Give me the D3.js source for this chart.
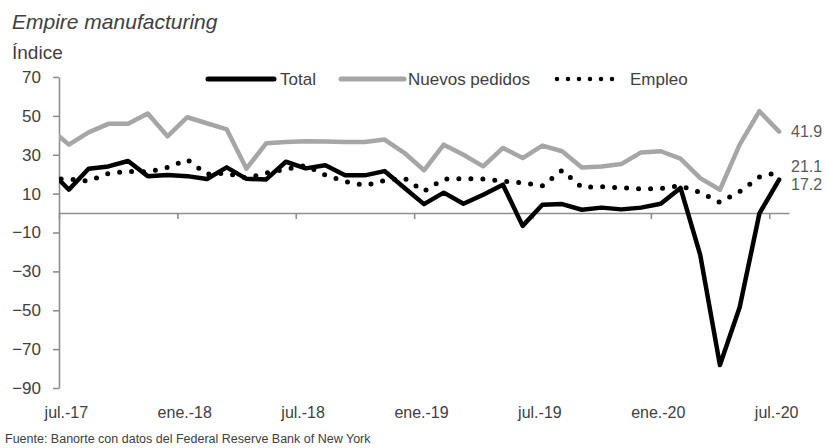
<!DOCTYPE html>
<html>
<head>
<meta charset="utf-8">
<script src="https://cdn.jsdelivr.net/npm/d3@7"></script>
<style>
  body { margin: 0; background: #fff; }
  svg text { font-family: "Liberation Sans", Arial, sans-serif; fill: #404040; }
</style>
</head>
<body>
<div id="chart"></div>
<script>
// meses: jun.-17 queda fuera del eje (se recorta), la serie visible va de jul.-17 a jul.-20
const meses = ['jun.-17','jul.-17','ago.-17','sep.-17','oct.-17','nov.-17','dic.-17',
  'ene.-18','feb.-18','mar.-18','abr.-18','may.-18','jun.-18','jul.-18','ago.-18','sep.-18','oct.-18','nov.-18','dic.-18',
  'ene.-19','feb.-19','mar.-19','abr.-19','may.-19','jun.-19','jul.-19','ago.-19','sep.-19','oct.-19','nov.-19','dic.-19',
  'ene.-20','feb.-20','mar.-20','abr.-20','may.-20','jun.-20','jul.-20'];
const etiquetasX = ['jul.-17','ene.-18','jul.-18','ene.-19','jul.-19','ene.-20','jul.-20'];
const ticksY = [70, 50, 30, 10, -10, -30, -50, -70, -90];

const total = [22.4, 12.0, 22.8, 24.0, 26.8, 19.0, 19.6, 19.0, 17.5, 23.5, 17.6, 17.3, 26.4, 23.0, 24.6, 19.4, 19.4, 21.6, 13.0,
  4.6, 10.5, 4.8, 9.4, 14.6, -6.6, 4.3, 4.6, 1.7, 2.8, 1.9, 2.8, 4.8, 12.9, -21.5, -78.2, -48.5, -0.2, 17.2];
const nuevosPedidos = [43.8, 35.2, 41.5, 45.9, 45.9, 51.2, 39.5, 49.3, 46.2, 43.1, 22.8, 35.9, 36.5, 37.0, 36.8, 36.6, 36.6, 37.8, 31.0,
  22.0, 35.2, 30.0, 24.0, 33.5, 28.3, 34.7, 31.8, 23.5, 24.0, 25.2, 31.2, 31.8, 28.0, 18.0, 12.0, 35.2, 52.4, 41.9];
const empleo = [17.5, 17.5, 16.5, 20.3, 21.5, 21.2, 23.5, 27.5, 20.0, 20.5, 18.0, 20.6, 22.5, 24.5, 19.5, 16.2, 14.2, 16.8, 18.0,
  11.2, 17.5, 17.7, 17.5, 16.4, 15.6, 14.0, 22.0, 13.2, 13.6, 13.0, 12.4, 12.7, 14.0, 10.6, 5.5, 11.0, 18.5, 21.1];

const series = [
  { name: 'Total', values: total, color: '#000000', dash: null },
  { name: 'Nuevos pedidos', values: nuevosPedidos, color: '#a6a6a6', dash: null },
  { name: 'Empleo', values: empleo, color: '#000000', dash: '0 12' }
];

const width = 827, height = 448;
const plotLeft = 59, plotRight = 789, plotTop = 77, plotBottom = 388;

const svg = d3.select('#chart').append('svg')
  .attr('width', width)
  .attr('height', height);

const x = d3.scaleLinear().domain([0.5, meses.length - 0.5]).range([plotLeft, plotRight]);
const y = d3.scaleLinear().domain([-90, 70]).range([plotBottom, plotTop]);

svg.append('clipPath').attr('id', 'plot')
  .append('rect')
  .attr('x', plotLeft).attr('y', 0)
  .attr('width', plotRight - plotLeft).attr('height', height);

// eje Y
const yAxis = svg.append('g')
  .attr('transform', `translate(${plotLeft},0)`)
  .call(d3.axisLeft(y).tickValues(ticksY).tickSize(6).tickPadding(12).tickSizeOuter(0));
yAxis.selectAll('path, line').attr('stroke', '#8f8f8f').attr('stroke-width', 1.6);
yAxis.selectAll('text').style('font-size', '17px');

// eje X en cero: marcas entre categorías cada 6 meses
const marcas = etiquetasX.map(e => meses.indexOf(e) - 0.5);
const xAxis = svg.append('g')
  .attr('transform', `translate(0,${y(0)})`)
  .call(d3.axisBottom(x).tickValues(marcas).tickFormat('').tickSize(6).tickSizeOuter(0));
xAxis.selectAll('path, line').attr('stroke', '#8f8f8f').attr('stroke-width', 1.6);

// etiquetas de fecha abajo
const xLabels = svg.append('g')
  .attr('transform', `translate(0,${plotBottom})`)
  .call(d3.axisBottom(x).tickValues(etiquetasX.map(e => meses.indexOf(e)))
    .tickFormat(d => meses[d]).tickSize(0).tickPadding(19));
xLabels.select('.domain').remove();
xLabels.selectAll('text').attr('dx', -3).style('font-size', '16px');

// líneas
const line = d3.line()
  .x((d, i) => x(i))
  .y(d => y(d));

const g = svg.append('g').attr('clip-path', 'url(#plot)');
g.selectAll('path.serie')
  .data(series)
  .enter()
  .append('path')
  .attr('class', 'serie')
  .attr('d', d => line(d.values))
  .attr('fill', 'none')
  .attr('stroke', d => d.color)
  .attr('stroke-width', d => d.dash ? 5 : 4.5)
  .attr('stroke-linejoin', 'round')
  .attr('stroke-linecap', 'round')
  .attr('stroke-dasharray', d => d.dash);

// valores finales
const ultimo = meses.length - 1;
const desfase = { 'Total': 5, 'Nuevos pedidos': 0, 'Empleo': -6 };
svg.selectAll('text.final')
  .data(series)
  .enter()
  .append('text')
  .attr('class', 'final')
  .attr('x', plotRight + 2)
  .attr('y', d => y(d.values[ultimo]) + desfase[d.name])
  .attr('dy', '0.35em')
  .style('font-size', '16px')
  .style('fill', '#595959')
  .text(d => d.values[ultimo].toFixed(1));

// leyenda
const leyenda = [
  { s: series[0], x0: 208, x1: 274, tx: 280 },
  { s: series[1], x0: 341, x1: 404, tx: 408 },
  { s: series[2], x0: 557, x1: 613, tx: 630 }
];
const ly = 79;
leyenda.forEach(l => {
  svg.append('line')
    .attr('x1', l.x0).attr('x2', l.x1)
    .attr('y1', ly).attr('y2', ly)
    .attr('stroke', l.s.color)
    .attr('stroke-width', l.s.dash ? 4.5 : 5)
    .attr('stroke-linecap', 'round')
    .attr('stroke-dasharray', l.s.dash ? '0 11' : null);
  svg.append('text')
    .attr('x', l.tx).attr('y', ly)
    .attr('dy', '0.35em')
    .style('font-size', '17px')
    .text(l.s.name);
});

// títulos
svg.append('text')
  .attr('x', 12).attr('y', 29)
  .style('font-size', '21px')
  .style('font-style', 'italic')
  .text('Empire manufacturing');
svg.append('text')
  .attr('x', 12).attr('y', 59)
  .style('font-size', '19px')
  .text('Índice');
svg.append('text')
  .attr('x', 5).attr('y', 443)
  .style('font-size', '12.5px')
  .text('Fuente: Banorte con datos del Federal Reserve Bank of New York');
</script>
</body>
</html>
